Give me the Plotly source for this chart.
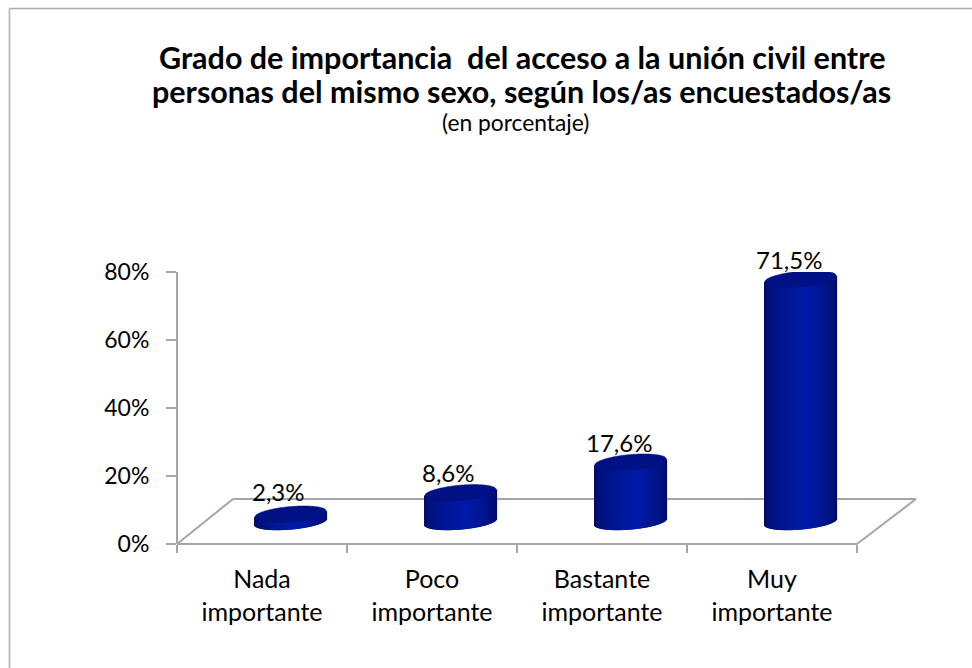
import plotly.graph_objects as go

# ---------- data ----------
CATEGORIES = ["Nada importante", "Poco importante", "Bastante importante", "Muy importante"]
CATEGORY_LABELS = ["Nada<br>importante", "Poco<br>importante", "Bastante<br>importante", "Muy<br>importante"]
VALUES = [2.3, 8.6, 17.6, 71.5]
Y_TICKS = [0, 20, 40, 60, 80]
TITLE_LINES = ["Grado de importancia \u00a0del acceso a la unión civil entre",
               "personas del mismo sexo, según los/as encuestados/as"]
SUBTITLE = "(en porcentaje)"

# ---------- layout constants (pixels) ----------
W, H = 972, 668
L, R, T, B = 177, 917, 272, 544
FRONT_R = 857
BACK_L, BACK_R, BACK_Y = 233, 916, 499
UNIT_X = (FRONT_R - L) / 4
UNIT_Y = (B - T) / 80
FONT = "Lato"
TXT = "#000000"
GREY = "#a6a6a6"

# cylinder geometry, in pixels
DX_PX, DY_PX = 28.5, 22     # depth shift of the cylinders from the category centre
A_PX, B_PX, SHEAR = 36, 7.6, 0.085
STRIPS = 72
LABEL_LIFT = [45, 42, 42, 41]


def px(x):
    return (x - L) / (R - L)


def py(y):
    return (B - y) / (B - T)


def paper_line(x0, y0, x1, y1, color=GREY, width=2):
    return dict(type="line", xref="paper", yref="paper", x0=px(x0), y0=py(y0), x1=px(x1), y1=py(y1),
                line=dict(color=color, width=width), layer="below")


def body_color(t):
    # horizontal shading across the cylinder, dark rim, brightest slightly right of the middle
    peak = 0.58
    s = t / peak if t < peak else (1 - t) / (1 - peak)
    s = s ** 0.5
    return "rgb(%d,%d,%d)" % (0, 10 + 17 * s, 96 + 72 * s)


fig = go.Figure()

# Real bars, drawn as thin strips to carry the shading of the cylinder.
for i in range(STRIPS):
    t = (i + 0.5) / STRIPS
    dx = -A_PX + 2 * A_PX * t
    half = B_PX * max(0.0, 1 - (dx / A_PX) ** 2) ** 0.5
    lift = DY_PX + SHEAR * dx
    base = [(lift - half) / UNIT_Y for _ in VALUES]
    height = [v + half / UNIT_Y for v in VALUES]
    fig.add_trace(go.Bar(
        x=CATEGORIES, y=height, base=base,
        offset=(DX_PX + dx - A_PX / STRIPS) / UNIT_X,
        width=(2 * A_PX / STRIPS + 0.6) / UNIT_X,
        marker=dict(color=body_color(t), line=dict(width=0)),
        showlegend=False, hoverinfo="skip",
    ))

shapes = [
    # chart frame: only the top and left edges are visible
    paper_line(9.5, 8.5, W, 8.5, color="#aaaaaa", width=1.5),
    paper_line(9.5, 8.5, 9.5, H, color="#bfbfbf", width=2),
    # floor of the 3-D chart and the value axis
    paper_line(L, T, L, B),
    paper_line(L, B, FRONT_R, B),
    paper_line(L, B, BACK_L, BACK_Y),
    paper_line(BACK_L, BACK_Y, BACK_R, BACK_Y),
    paper_line(FRONT_R, B, BACK_R, BACK_Y),
]

# Top faces of the cylinders, from each value.
for idx, v in enumerate(VALUES):
    pts = []
    n = 48
    for j in range(2 * n + 1):
        k = j if j <= n else 2 * n - j
        dx = -A_PX + 2 * A_PX * k / n
        half = B_PX * max(0.0, 1 - (dx / A_PX) ** 2) ** 0.5
        h = half if j <= n else -half
        xv = idx + (DX_PX + dx) / UNIT_X
        yv = v + (DY_PX + SHEAR * dx + h) / UNIT_Y
        pts.append("%s%.4f,%.4f" % ("M" if j == 0 else "L", xv, yv))
    shapes.append(dict(type="path", xref="x", yref="y", path=" ".join(pts) + " Z",
                       fillcolor="#001085", line=dict(color="#00107c", width=0.5)))

annotations = [
    dict(x=c, y=v, xref="x", yref="y", text=f"{v:.1f}%".replace(".", ","), showarrow=False,
         xshift=DX_PX - 12, yshift=lift_px, font=dict(family=FONT, size=24, color=TXT))
    for c, v, lift_px in zip(CATEGORIES, VALUES, LABEL_LIFT)
]
annotations += [
    dict(xref="paper", yref="paper", x=px(521.5), y=py(57), xanchor="center", yanchor="middle",
         text=TITLE_LINES[0], showarrow=False,
         font=dict(family=FONT, size=30.5, color=TXT, weight="bold")),
    dict(xref="paper", yref="paper", x=px(521.5), y=py(91), xanchor="center", yanchor="middle",
         text=TITLE_LINES[1], showarrow=False,
         font=dict(family=FONT, size=30.5, color=TXT, weight="bold")),
    dict(xref="paper", yref="paper", x=px(515), y=py(122), xanchor="center", yanchor="middle",
         text=SUBTITLE, showarrow=False,
         font=dict(family=FONT, size=22.8, color=TXT)),
]

fig.update_layout(
    width=W, height=H,
    margin=dict(l=L, r=W - R, t=T, b=H - B),
    paper_bgcolor="white", plot_bgcolor="rgba(0,0,0,0)",
    barmode="overlay", showlegend=False,
    shapes=shapes, annotations=annotations,
    xaxis=dict(
        type="category", categoryorder="array", categoryarray=CATEGORIES,
        range=[-0.5, -0.5 + (R - L) / UNIT_X], tickson="boundaries",
        tickmode="array", tickvals=CATEGORIES, ticktext=CATEGORY_LABELS,
        ticks="outside", ticklen=8, tickwidth=1.5, tickcolor=GREY,
        ticklabelstandoff=18,
        tickfont=dict(family=FONT, size=25, color=TXT),
        showline=False, showgrid=False, zeroline=False,
    ),
    yaxis=dict(
        range=[0, 80], tickmode="array", tickvals=Y_TICKS, ticktext=[f"{t}%" for t in Y_TICKS],
        ticks="outside", ticklen=10, tickwidth=1.5, tickcolor=GREY,
        ticklabelstandoff=12,
        tickfont=dict(family=FONT, size=23, color=TXT),
        showline=False, showgrid=False, zeroline=False,
    ),
)

fig.write_html("out.html", config={"displayModeBar": False},
               post_script="document.body.style.margin='0';document.body.style.overflow='hidden';")
